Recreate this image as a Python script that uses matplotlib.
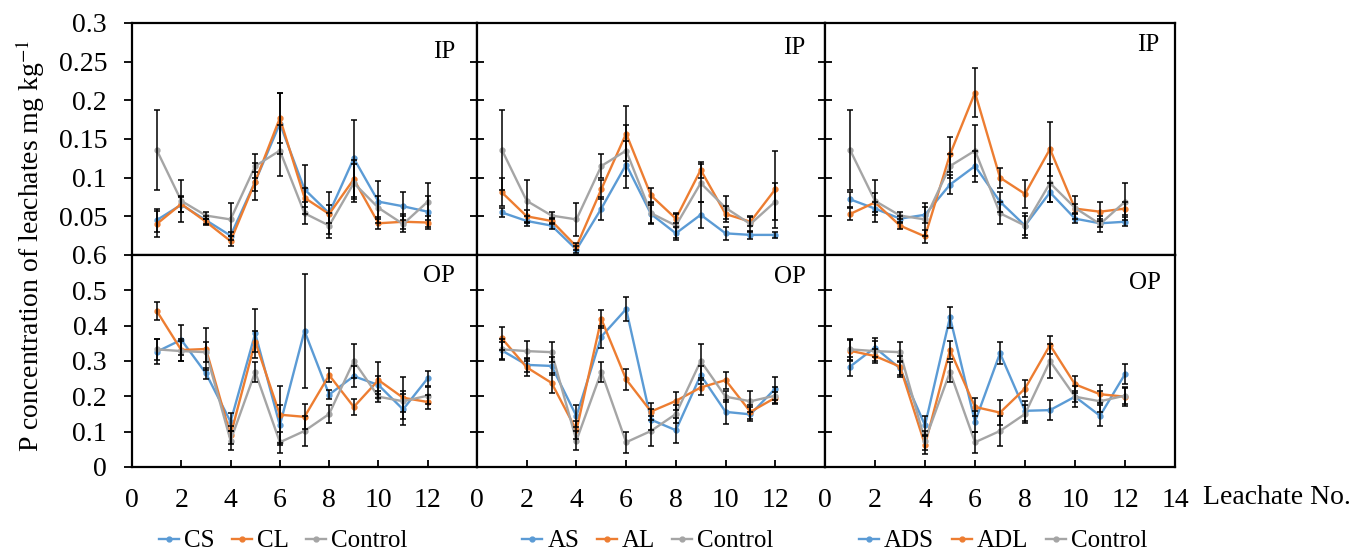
import numpy as np
import matplotlib.pyplot as plt

plt.rcParams['font.family'] = ['Liberation Serif', 'DejaVu Serif']
plt.rcParams['mathtext.fontset'] = 'stix'

leachate = np.arange(1, 13)

# IP (top row)
ip_control     = [0.136, 0.070, 0.051, 0.046, 0.115, 0.135, 0.054, 0.038, 0.093, 0.061, 0.040, 0.069]
ip_control_err = [0.052, 0.027, 0.004, 0.021, 0.016, 0.033, 0.014, 0.016, 0.025, 0.015, 0.010, 0.024]
ip_cs      = [0.045, 0.065, 0.045, 0.025, 0.095, 0.170, 0.085, 0.054, 0.125, 0.069, 0.063, 0.056]
ip_cs_err  = [0.015, 0.010, 0.005, 0.005, 0.012, 0.040, 0.032, 0.027, 0.050, 0.027, 0.018, 0.020]
ip_cl      = [0.040, 0.066, 0.043, 0.018, 0.095, 0.177, 0.074, 0.053, 0.098, 0.041, 0.043, 0.042]
ip_cl_err  = [0.017, 0.010, 0.004, 0.006, 0.024, 0.032, 0.012, 0.012, 0.025, 0.008, 0.010, 0.008]
ip_as      = [0.055, 0.044, 0.038, 0.007, 0.060, 0.117, 0.053, 0.028, 0.052, 0.028, 0.026, 0.026]
ip_as_err  = [0.006, 0.006, 0.004, 0.004, 0.015, 0.030, 0.012, 0.008, 0.017, 0.008, 0.005, 0.004]
ip_al      = [0.081, 0.050, 0.044, 0.011, 0.085, 0.157, 0.077, 0.047, 0.110, 0.053, 0.043, 0.085]
ip_al_err  = [0.018, 0.008, 0.004, 0.005, 0.012, 0.036, 0.010, 0.006, 0.010, 0.010, 0.006, 0.050]
ip_ads     = [0.072, 0.060, 0.047, 0.052, 0.091, 0.115, 0.069, 0.038, 0.081, 0.047, 0.041, 0.043]
ip_ads_err = [0.010, 0.008, 0.004, 0.010, 0.012, 0.020, 0.013, 0.012, 0.012, 0.006, 0.005, 0.006]
ip_adl     = [0.053, 0.068, 0.038, 0.024, 0.130, 0.210, 0.100, 0.079, 0.137, 0.060, 0.056, 0.060]
ip_adl_err = [0.008, 0.012, 0.004, 0.008, 0.023, 0.032, 0.013, 0.018, 0.035, 0.006, 0.012, 0.008]

# OP (bottom row)
op_control     = [0.333, 0.328, 0.325, 0.075, 0.269, 0.070, 0.102, 0.150, 0.300, 0.199, 0.186, 0.202]
op_control_err = [0.030, 0.028, 0.028, 0.028, 0.028, 0.029, 0.043, 0.026, 0.048, 0.015, 0.030, 0.025]
op_cs      = [0.326, 0.360, 0.265, 0.128, 0.378, 0.118, 0.385, 0.205, 0.257, 0.232, 0.163, 0.251]
op_cs_err  = [0.035, 0.042, 0.015, 0.025, 0.069, 0.057, 0.160, 0.012, 0.030, 0.025, 0.045, 0.021]
op_cl      = [0.442, 0.331, 0.334, 0.090, 0.355, 0.148, 0.142, 0.260, 0.170, 0.246, 0.196, 0.184]
op_cl_err  = [0.025, 0.030, 0.060, 0.025, 0.030, 0.080, 0.035, 0.020, 0.023, 0.052, 0.060, 0.020]
op_as      = [0.330, 0.289, 0.286, 0.144, 0.369, 0.447, 0.134, 0.104, 0.260, 0.156, 0.149, 0.222]
op_as_err  = [0.025, 0.020, 0.025, 0.031, 0.031, 0.033, 0.030, 0.036, 0.025, 0.033, 0.020, 0.032]
op_al      = [0.364, 0.282, 0.238, 0.104, 0.419, 0.248, 0.157, 0.187, 0.225, 0.246, 0.156, 0.196]
op_al_err  = [0.033, 0.025, 0.028, 0.025, 0.026, 0.030, 0.025, 0.025, 0.020, 0.024, 0.020, 0.015]
op_ads     = [0.284, 0.338, 0.279, 0.118, 0.424, 0.128, 0.322, 0.159, 0.161, 0.199, 0.145, 0.263]
op_ads_err = [0.027, 0.026, 0.020, 0.027, 0.030, 0.030, 0.031, 0.028, 0.029, 0.030, 0.030, 0.028]
op_adl     = [0.329, 0.314, 0.284, 0.063, 0.331, 0.170, 0.154, 0.222, 0.345, 0.234, 0.206, 0.199]
op_adl_err = [0.030, 0.020, 0.030, 0.025, 0.026, 0.026, 0.035, 0.024, 0.026, 0.024, 0.026, 0.025]

names = [['CS', 'CL'], ['AS', 'AL'], ['ADS', 'ADL']]
ip_series = [[(ip_cs, ip_cs_err), (ip_cl, ip_cl_err)],
             [(ip_as, ip_as_err), (ip_al, ip_al_err)],
             [(ip_ads, ip_ads_err), (ip_adl, ip_adl_err)]]
op_series = [[(op_cs, op_cs_err), (op_cl, op_cl_err)],
             [(op_as, op_as_err), (op_al, op_al_err)],
             [(op_ads, op_ads_err), (op_adl, op_adl_err)]]

colors = ['#5B9BD5', '#ED7D31', '#A5A5A5']

W, H = 1355, 555
fig = plt.figure(figsize=(W / 100, H / 100), dpi=100)

cols = [(132, 477), (477, 825), (825, 1175)]
rows = [(23, 255), (255, 467)]


def px_axes(x0, x1, y0, y1):
    return fig.add_axes([x0 / W, 1 - y1 / H, (x1 - x0) / W, (y1 - y0) / H])


legend_x = [283, 648, 1003]
tag_pos = [[(444, 52), (794, 48), (1148, 45)],
           [(439, 276), (790, 277), (1145, 283)]]

for r, (y0, y1) in enumerate(rows):
    for c, (x0, x1) in enumerate(cols):
        ax = px_axes(x0, x1, y0, y1)
        if r == 0:
            series = ip_series[c] + [(ip_control, ip_control_err)]
        else:
            series = op_series[c] + [(op_control, op_control_err)]
        labels = names[c] + ['Control']
        handles = []
        for (vals, errs), col, lab in zip(series, colors, labels):
            ax.errorbar(leachate, vals, yerr=errs, fmt='none', ecolor='black',
                        elinewidth=1.1, capsize=2, capthick=1.1, zorder=3)
            h, = ax.plot(leachate, vals, color=col, lw=1.7, marker='o', ms=3.5,
                         label=lab, zorder=2)
            handles.append(h)

        ax.set_xlim(0, 14)
        for s in ax.spines.values():
            s.set_linewidth(1.6)
            s.set_color('black')

        if r == 0:
            ax.set_ylim(0, 0.3)
            yt = [0.05, 0.1, 0.15, 0.2, 0.25, 0.3]
            ax.set_xticks([])
        else:
            ax.set_ylim(0, 0.6)
            yt = [0, 0.1, 0.2, 0.3, 0.4, 0.5, 0.6]
            xt = [0, 2, 4, 6, 8, 10, 12, 14]
            ax.set_xticks(xt)
            xl = [str(v) for v in xt]
            if c < 2:
                xl[-1] = ''
            ax.set_xticklabels(xl, fontsize=20)
            ax.tick_params(axis='x', direction='in', length=5, width=1.3, pad=15)

        ax.set_yticks(yt)
        if c == 0:
            ax.set_yticklabels([f'{v:g}' for v in yt], fontsize=20)
            ax.tick_params(axis='y', direction='out', length=6, width=1.3, pad=12)
        else:
            ax.set_yticklabels([])
            ax.tick_params(axis='y', direction='inout', length=10, width=1.3)

        tx, ty = tag_pos[r][c]
        fig.text(tx / W, 1 - ty / H, 'IP' if r == 0 else 'OP', fontsize=18,
                 ha='center', va='center')

        if r == 1:
            fig.legend(handles=handles, loc='center',
                       bbox_to_anchor=(legend_x[c] / W, 1 - 541 / H),
                       ncol=3, frameon=False, fontsize=18, handlelength=0.8,
                       handletextpad=0.2, columnspacing=0.7, borderpad=0)

fig.text(30 / W, 1 - 246 / H, 'P concentration of leachates mg kg$^{-1}$',
         rotation=90, fontsize=20, ha='center', va='center')
fig.text(1203 / W, 1 - 497 / H, 'Leachate No.', fontsize=20, ha='left', va='center')

plt.savefig('out.png', dpi=100)
